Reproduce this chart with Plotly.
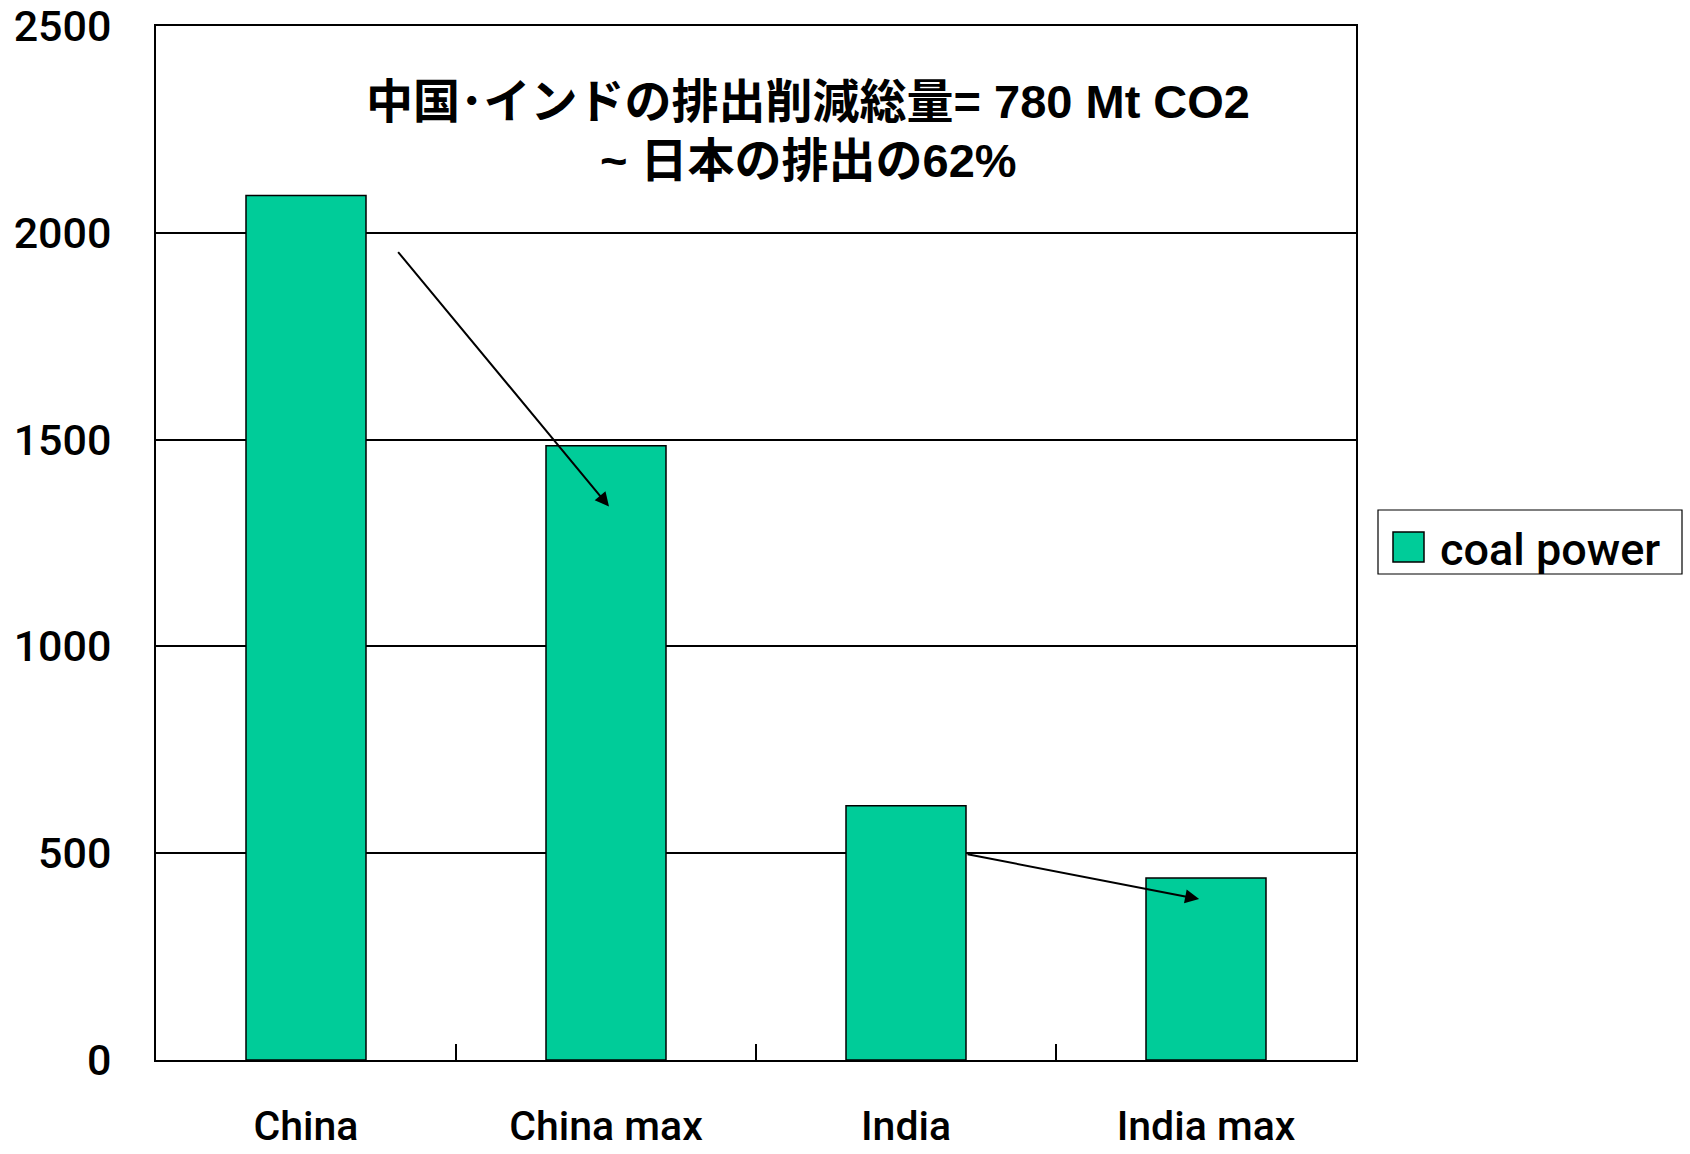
import plotly.graph_objects as go

# Coal-power CO2 emissions (Mt CO2) before and after maximum efficiency improvement
categories = ["China", "China max", "India", "India max"]
emissions = [2090, 1485, 615, 440]
series_name = "coal power"
y_ticks = [0, 500, 1000, 1500, 2000, 2500]
title_line1 = "中国･インドの排出削減総量= 780 Mt CO2"
title_line2 = "~ 日本の排出の62%"

BAR_COLOR = "#00CC99"
LATIN_FONT = "Roboto"
TITLE_FONT = "Liberation Sans, Noto Sans CJK JP"

W, H = 1690, 1154
M_L, M_R, M_T, M_B = 156, 334, 26, 94
PW, PH = W - M_L - M_R, H - M_T - M_B


def px_to_paper(x, y):
    """Convert page pixel position to paper coordinates."""
    return (x - M_L) / PW, (H - M_B - y) / PH


fig = go.Figure()
fig.add_trace(go.Bar(
    x=categories,
    y=emissions,
    name=series_name,
    width=0.4,
    marker=dict(color=BAR_COLOR, line=dict(color="black", width=1.5)),
    showlegend=False,
))

# Arrows from the base case to the improved case
fig.add_annotation(x=1.01, y=1338, ax=0.303, ay=1957, xref="x", yref="y",
                   axref="x", ayref="y", showarrow=True, arrowhead=2,
                   arrowsize=1.4, arrowwidth=2, arrowcolor="black", text="")
fig.add_annotation(x=2.977, y=389, ax=2.2, ay=498, xref="x", yref="y",
                   axref="x", ayref="y", showarrow=True, arrowhead=2,
                   arrowsize=1.4, arrowwidth=2, arrowcolor="black", text="")

# Headline text inside the plot
tx, ty1 = px_to_paper(808, 102)
_, ty2 = px_to_paper(812, 161)
for txt, yy in [(title_line1, ty1), (title_line2, ty2)]:
    fig.add_annotation(x=tx, y=yy, xref="paper", yref="paper", text=txt,
                       showarrow=False, xanchor="center", yanchor="middle",
                       font=dict(family=TITLE_FONT, size=47, color="black", weight="bold"))

# Legend box drawn beside the plot
lx0, ly0 = px_to_paper(1378, 574)
lx1, ly1 = px_to_paper(1682, 510)
fig.add_shape(type="rect", xref="paper", yref="paper", x0=lx0, y0=ly0, x1=lx1, y1=ly1,
              line=dict(color="black", width=1.2), fillcolor="white")
sx0, sy0 = px_to_paper(1393, 562)
sx1, sy1 = px_to_paper(1424, 532)
fig.add_shape(type="rect", xref="paper", yref="paper", x0=sx0, y0=sy0, x1=sx1, y1=sy1,
              line=dict(color="black", width=1.5), fillcolor=BAR_COLOR)
ltx, lty = px_to_paper(1438, 549)
fig.add_annotation(x=ltx, y=lty, xref="paper", yref="paper", text=series_name,
                   showarrow=False, xanchor="left", yanchor="middle",
                   font=dict(family=LATIN_FONT, size=45, color="black", weight=500))

fig.update_layout(
    width=W, height=H,
    margin=dict(l=M_L, r=M_R, t=M_T, b=M_B, autoexpand=False),
    paper_bgcolor="white", plot_bgcolor="white",
    font=dict(family=LATIN_FONT, color="black"),
    bargap=0.6,
)
fig.update_xaxes(
    showline=True, linecolor="black", linewidth=2, mirror=True,
    ticks="inside", ticklen=16, tickwidth=1.5, tickcolor="black",
    tickson="boundaries", showgrid=False, automargin=False,
    tickfont=dict(family=LATIN_FONT, size=41, color="black", weight=500),
    ticklabelstandoff=29,
)
fig.update_yaxes(
    range=[0, 2500], tickvals=y_ticks, automargin=False,
    showline=True, linecolor="black", linewidth=2, mirror=True,
    showgrid=True, gridcolor="black", gridwidth=1.5, zeroline=False,
    ticks="outside", ticklen=34, tickcolor="rgba(0,0,0,0)",
    tickfont=dict(family=LATIN_FONT, size=43, color="black", weight=500),
)

fig.write_html("out.html")
